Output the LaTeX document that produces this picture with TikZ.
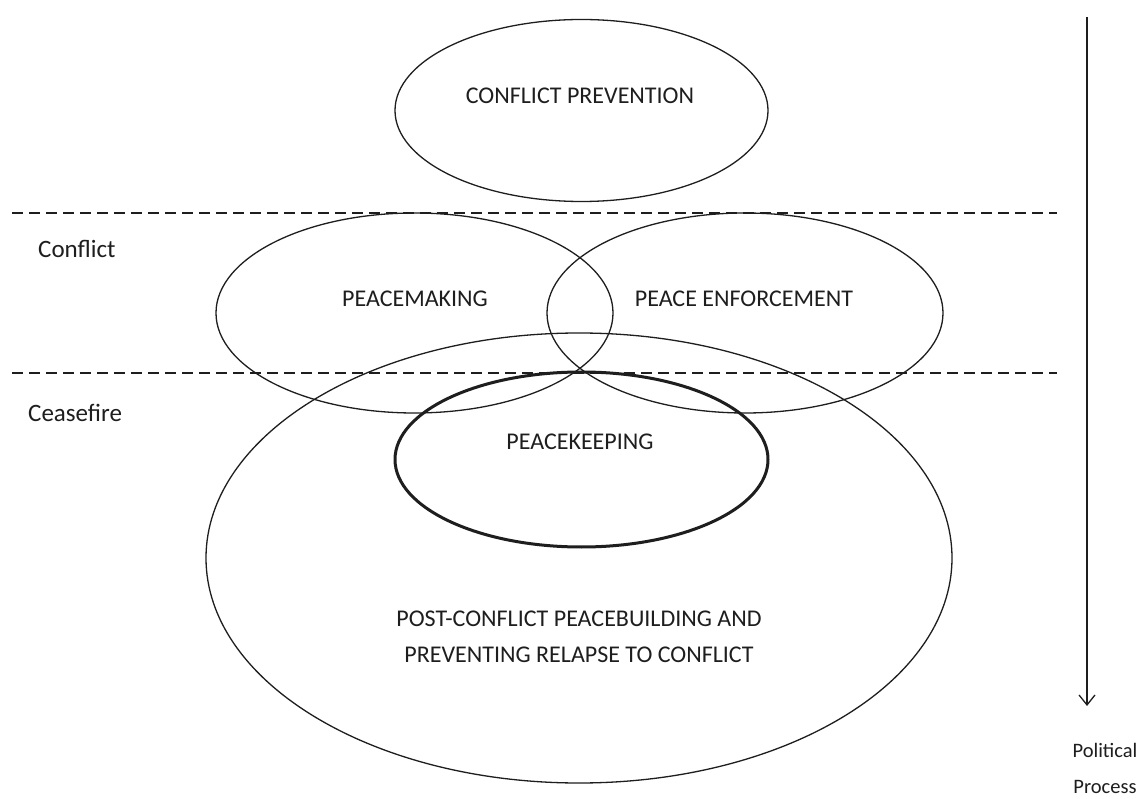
\documentclass[tikz,border=0pt]{standalone}
\usepackage{fontspec}
\setmainfont{Carlito}
\usetikzlibrary{shapes.geometric,arrows.meta}
\definecolor{ink}{HTML}{1E1E1E}
\begin{document}
\begin{tikzpicture}[x=1pt,y=-1pt,
  oval/.style={draw=ink,ellipse,inner sep=0pt,line width=1.3pt},
  thickoval/.style={oval,line width=3pt},
  lbl/.style={text=ink,font=\fontsize{24}{36}\selectfont,inner sep=0pt,align=center},
  sidelbl/.style={text=ink,font=\fontsize{25}{34}\selectfont,inner sep=0pt,align=center},
  processlbl/.style={text=ink,font=\fontsize{20.5}{36}\selectfont,inner sep=0pt,align=center},
  divider/.style={draw=ink,line width=1.3pt,dash pattern=on 11pt off 6pt}]
\useasboundingbox[fill=white] (0,0) rectangle (1141,799);

% ellipses
\node[oval,minimum width=373pt,minimum height=182pt] (prev) at (581.5,110.5) {};
\node[oval,minimum width=397pt,minimum height=200pt] (make) at (414.5,313) {};
\node[oval,minimum width=396pt,minimum height=200pt] (enf) at (745,313) {};
\node[oval,minimum width=746pt,minimum height=450pt] (post) at (579,558) {};
\node[thickoval,minimum width=373pt,minimum height=175pt] (keep) at (581.5,459.5) {};

% texts
\node[lbl] (tprev) at (580,96) {CONFLICT PREVENTION};
\node[lbl] (tmake) at (415,299) {PEACEMAKING};
\node[lbl] (tenf) at (744,299) {PEACE ENFORCEMENT};
\node[lbl] (tkeep) at (580,442) {PEACEKEEPING};
\node[lbl] (tpost) at (579,637) {POST-CONFLICT PEACEBUILDING AND\\PREVENTING RELAPSE TO CONFLICT};

\node[sidelbl,anchor=west] (tconf) at (38,249) {Conflict};
\node[sidelbl,anchor=west] (tcease) at (28,413) {Ceasefire};
\node[processlbl] (tpol) at (1105,768) {Political\\Process};

% dividers
\coordinate (d1a) at (12,213);
\coordinate (d1b) at (1057,213);
\coordinate (d2a) at (12,373);
\coordinate (d2b) at (1057,373);
\draw[divider] (d1a) -- (d1b);
\draw[divider] (d2a) -- (d2b);

% arrow
\coordinate (atop) at (1087,17);
\coordinate (abot) at (1087,706);
\draw[draw=ink,line width=1.3pt,-{Straight Barb[length=10pt,width=16pt,line width=1.3pt]}] (atop) -- (abot);
\end{tikzpicture}
\end{document}
